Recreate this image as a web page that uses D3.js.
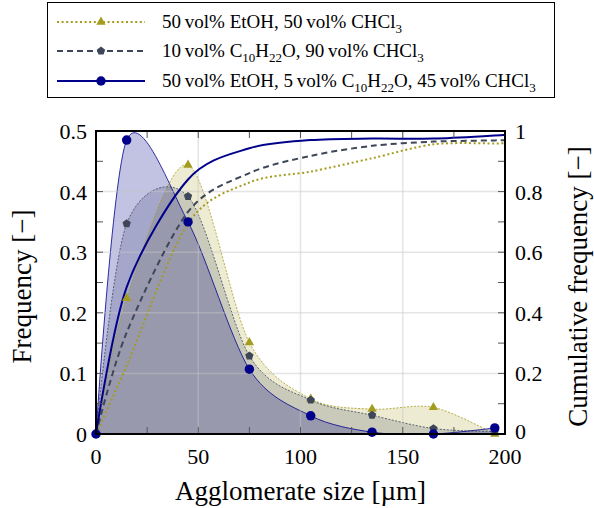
<!DOCTYPE html>
<html>
<head>
<meta charset="utf-8">
<script src="https://cdn.jsdelivr.net/npm/d3@7"></script>
<style>
  body { margin: 0; background: #fff; }
  text { font-family: "Liberation Serif", "DejaVu Serif", serif; }
  .tick-label { font-size: 22px; fill: #000; }
</style>
</head>
<body>
<div id="chart"></div>
<script>
// size of the canvas and the plot box inside it
var width = 594,
    height = 508;
var margin = { top: 131, right: 89, bottom: 74, left: 96 };

// agglomerate size classes (x positions of the markers)
var sizes = [0, 15, 45, 75, 105, 135, 165, 195];

// frequency per size class
var freqEtOH   = [0, 0.224, 0.444, 0.151, 0.058, 0.041, 0.044, 0.0];
var freqDecOH  = [0, 0.347, 0.392, 0.129, 0.056, 0.031, 0.009, 0.004];
var freqMix    = [0, 0.485, 0.350, 0.107, 0.030, 0.003, 0.0, 0.010];

// cumulative frequency (right axis), the lines run on to the right border
var cumSizes   = [0, 15, 45, 75, 105, 135, 165, 195, 200];
var cumEtOH    = [0, 0.225, 0.695, 0.830, 0.866, 0.910, 0.956, 0.959, 0.959];
var cumDecOH   = [0, 0.335, 0.733, 0.861, 0.918, 0.951, 0.965, 0.969, 0.970];
var cumMix     = [0, 0.485, 0.840, 0.943, 0.970, 0.975, 0.975, 0.985, 0.987];

// tick labels
var xTicks = [0, 50, 100, 150, 200];
var yLeftTicks = [0, 0.1, 0.2, 0.3, 0.4, 0.5];
var yRightTicks = [0, 0.2, 0.4, 0.6, 0.8, 1];

// series styling, in legend order
var series = [
  { freq: freqEtOH, cum: cumEtOH, color: "#a39c1e", fillOpacity: 0.2, dash: "2,2.6", symbol: "triangle",
    label: [["50\u2009vol% EtOH, 50\u2009vol% CHCl"], ["3", true]] },
  { freq: freqDecOH, cum: cumDecOH, color: "#3d4758", fillOpacity: 0.2, dash: "6,4", symbol: "pentagon",
    label: [["10\u2009vol% C"], ["10", true], ["H"], ["22", true], ["O, 90\u2009vol% CHCl"], ["3", true]] },
  { freq: freqMix, cum: cumMix, color: "#00008b", fillOpacity: 0.24, dash: null, symbol: "circle",
    label: [["50\u2009vol% EtOH, 5\u2009vol% C"], ["10", true], ["H"], ["22", true], ["O, 45\u2009vol% CHCl"], ["3", true]] }
];

var x = d3.scaleLinear().domain([0, 200]).range([margin.left, width - margin.right]);
var yL = d3.scaleLinear().domain([0, 0.5]).range([height - margin.bottom, margin.top]);
var yR = d3.scaleLinear().domain([0, 1]).range([height - margin.bottom, margin.top]);

var svg = d3.select("#chart").append("svg")
    .attr("width", width)
    .attr("height", height);

svg.append("defs").append("clipPath").attr("id", "plotClip")
  .append("rect")
    .attr("x", x(0)).attr("y", yL(0.5))
    .attr("width", x(200) - x(0)).attr("height", yL(0) - yL(0.5));

var curve = d3.curveCardinal.tension(0.1);
var plot = svg.append("g").attr("clip-path", "url(#plotClip)");

// frequency areas first, so everything else sits on top
series.forEach(function(s) {
  var area = d3.area()
      .x(function(d, i) { return x(sizes[i]); })
      .y0(yL(0))
      .y1(function(d) { return yL(d); })
      .curve(curve);
  plot.append("path")
      .attr("d", area(s.freq))
      .attr("fill", s.color)
      .attr("fill-opacity", s.fillOpacity);
});

series.forEach(function(s) {
  var line = d3.line()
      .x(function(d, i) { return x(sizes[i]); })
      .y(function(d) { return yL(d); })
      .curve(curve);
  plot.append("path")
      .attr("d", line(s.freq))
      .attr("fill", "none")
      .attr("stroke", s.color)
      .attr("stroke-width", 0.8)
      .attr("stroke-dasharray", s.dash ? "2,1.5" : null);
});

// grid, drawn over the fills like "axis on top"
var grid = plot.append("g")
    .attr("stroke", "#c5c5c5")
    .attr("stroke-opacity", 0.45)
    .attr("stroke-width", 1.5);
grid.selectAll(".gx").data(xTicks).enter().append("line")
    .attr("x1", function(d) { return x(d); }).attr("x2", function(d) { return x(d); })
    .attr("y1", yL(0)).attr("y2", yL(0.5));
grid.selectAll(".gy").data(yLeftTicks).enter().append("line")
    .attr("x1", x(0)).attr("x2", x(200))
    .attr("y1", function(d) { return yL(d); }).attr("y2", function(d) { return yL(d); });

// cumulative lines
series.forEach(function(s) {
  var line = d3.line()
      .x(function(d, i) { return x(cumSizes[i]); })
      .y(function(d) { return yR(d); })
      .curve(curve);
  plot.append("path")
      .attr("d", line(s.cum))
      .attr("fill", "none")
      .attr("stroke", s.color)
      .attr("stroke-width", 2)
      .attr("stroke-dasharray", s.dash);
});

// marker shapes
var pentagon = {
  draw: function(context, size) {
    var r = Math.sqrt(size / 2.378);
    for (var k = 0; k < 5; k++) {
      var a = -Math.PI / 2 + k * 2 * Math.PI / 5;
      if (k === 0) context.moveTo(r * Math.cos(a), r * Math.sin(a));
      else context.lineTo(r * Math.cos(a), r * Math.sin(a));
    }
    context.closePath();
  }
};
function symbolPath(name) {
  if (name === "circle") return d3.symbol(d3.symbolCircle, 70)();
  if (name === "triangle") return d3.symbol(d3.symbolTriangle, 38)();
  return d3.symbol(pentagon, 46)();
}

series.forEach(function(s) {
  svg.append("g").selectAll("path")
      .data(s.freq)
      .enter().append("path")
      .attr("transform", function(d, i) { return "translate(" + x(sizes[i]) + "," + yL(d) + ")"; })
      .attr("d", symbolPath(s.symbol))
      .attr("fill", s.color);
});

// ticks (inside) and frame
var tickColor = "#555";
var ticks = svg.append("g").attr("stroke", tickColor).attr("stroke-width", 1);
d3.range(0, 201, 25).forEach(function(v) {
  ticks.append("line").attr("x1", x(v)).attr("x2", x(v)).attr("y1", yL(0)).attr("y2", yL(0) - 7);
  ticks.append("line").attr("x1", x(v)).attr("x2", x(v)).attr("y1", yL(0.5)).attr("y2", yL(0.5) + 7);
});
d3.range(0, 0.501, 0.05).forEach(function(v) {
  ticks.append("line").attr("x1", x(0)).attr("x2", x(0) + 7).attr("y1", yL(v)).attr("y2", yL(v));
});
d3.range(0, 1.001, 0.1).forEach(function(v) {
  ticks.append("line").attr("x1", x(200)).attr("x2", x(200) - 7).attr("y1", yR(v)).attr("y2", yR(v));
});

svg.append("rect")
    .attr("x", x(0)).attr("y", yL(0.5))
    .attr("width", x(200) - x(0)).attr("height", yL(0) - yL(0.5))
    .attr("fill", "none")
    .attr("stroke", "#000")
    .attr("stroke-width", 2);

// tick labels
svg.append("g").selectAll("text").data(xTicks).enter().append("text")
    .attr("class", "tick-label")
    .attr("x", function(d) { return x(d); })
    .attr("y", yL(0) + 30)
    .attr("text-anchor", "middle")
    .text(function(d) { return d; });
svg.append("g").selectAll("text").data(yLeftTicks).enter().append("text")
    .attr("class", "tick-label")
    .attr("x", x(0) - 9)
    .attr("y", function(d) { return yL(d) + 8; })
    .attr("text-anchor", "end")
    .text(function(d) { return d; });
svg.append("g").selectAll("text").data(yRightTicks).enter().append("text")
    .attr("class", "tick-label")
    .attr("x", x(200) + 10)
    .attr("y", function(d) { return yR(d) + (d === 0 ? 5 : 8); })
    .attr("text-anchor", "start")
    .text(function(d) { return d; });

// axis titles
svg.append("text")
    .attr("x", (x(0) + x(200)) / 2).attr("y", 500)
    .attr("text-anchor", "middle")
    .style("font-size", "27px")
    .text("Agglomerate size [\u00b5m]");
svg.append("text")
    .attr("transform", "translate(31," + ((yL(0) + yL(0.5)) / 2 + 4) + ") rotate(-90)")
    .attr("text-anchor", "middle")
    .style("font-size", "27px")
    .text("Frequency [\u2212]");
svg.append("text")
    .attr("transform", "translate(587," + ((yL(0) + yL(0.5)) / 2 + 4) + ") rotate(-90)")
    .attr("text-anchor", "middle")
    .style("font-size", "27px")
    .text("Cumulative frequency [\u2212]");

// legend
var legend = svg.append("g");
legend.append("rect")
    .attr("x", 47.5).attr("y", 2.5).attr("width", 507).attr("height", 95)
    .attr("fill", "#fff").attr("stroke", "#000").attr("stroke-width", 1);
var rowY = [22, 51, 81];
series.forEach(function(s, i) {
  var g = legend.append("g").attr("transform", "translate(0," + rowY[i] + ")");
  g.append("line")
      .attr("x1", 57).attr("x2", 145)
      .attr("stroke", s.color).attr("stroke-width", 2)
      .attr("stroke-dasharray", s.dash);
  g.append("path")
      .attr("transform", "translate(101,0)")
      .attr("d", symbolPath(s.symbol))
      .attr("fill", s.color);
  var t = g.append("text").attr("x", 162).attr("y", 6).style("font-size", "19px");
  // subscripts: each piece gets an absolute baseline, so nothing drifts
  s.label.forEach(function(part) {
    var sp = t.append("tspan").attr("y", part[1] ? 11 : 6).text(part[0]);
    if (part[1]) sp.style("font-size", "13px");
  });
});
</script>
</body>
</html>
